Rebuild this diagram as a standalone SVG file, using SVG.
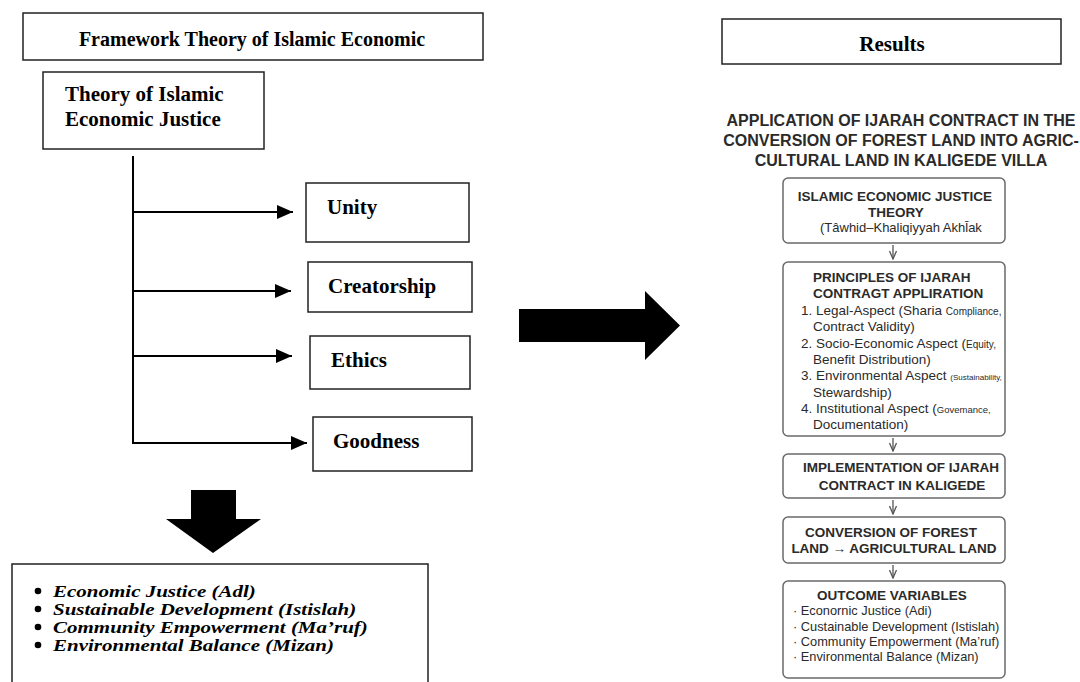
<svg xmlns="http://www.w3.org/2000/svg" width="1080" height="682" viewBox="0 0 1080 682">
<style>
.bx{fill:#fff;stroke:#222;stroke-width:1.5}
.rb{fill:#fff;stroke:#6a6a6a;stroke-width:1.5}
.tb{font-family:"Liberation Serif",serif;font-weight:bold;fill:#000}
.ti{font-family:"Liberation Serif",serif;font-weight:bold;font-style:italic;font-size:20px;fill:#000}
.sb{font-family:"Liberation Sans",Arial,sans-serif;font-weight:bold;fill:#2a2a2a}
.sr{font-family:"Liberation Sans",Arial,sans-serif;fill:#2a2a2a}
.cl{stroke:#000;stroke-width:2;fill:none}
.sl{stroke:#555;stroke-width:1.3;fill:none}
</style>
<defs>
<marker id="ah" viewBox="0 0 16 14" refX="16" refY="7" markerWidth="16" markerHeight="14" markerUnits="userSpaceOnUse" orient="auto"><path d="M0,0 L16,7 L0,14 z" fill="#000"/></marker>
<marker id="sa" viewBox="0 0 10 8" refX="9" refY="4" markerWidth="10" markerHeight="8" markerUnits="userSpaceOnUse" orient="auto"><path d="M1,0.5 L9,4 L1,7.5" fill="none" stroke="#555" stroke-width="1.3"/></marker>
</defs>
<rect width="1080" height="682" fill="#fff"/>

<g id="framework">
<rect class="bx" x="23" y="13" width="460" height="47"/>
<text class="tb" x="252" y="46" font-size="20" text-anchor="middle">Framework Theory of Islamic Economic</text>
</g>
<g id="theory">
<rect class="bx" x="43" y="72" width="221" height="77"/>
<text class="tb" x="65" y="101" font-size="21">Theory of Islamic</text>
<text class="tb" x="65" y="126" font-size="21">Economic Justice</text>
</g>
<g id="unity">
<rect class="bx" x="306" y="183" width="163" height="59"/>
<text class="tb" x="327" y="214" font-size="21">Unity</text>
</g>
<g id="creatorship">
<rect class="bx" x="308" y="262" width="164" height="50"/>
<text class="tb" x="328" y="293" font-size="21">Creatorship</text>
</g>
<g id="ethics">
<rect class="bx" x="310" y="336" width="160" height="53"/>
<text class="tb" x="331" y="367" font-size="21">Ethics</text>
</g>
<g id="goodness">
<rect class="bx" x="313" y="417" width="159" height="54"/>
<text class="tb" x="333" y="448" font-size="21">Goodness</text>
</g>
<g id="outcomes-left">
<rect class="bx" x="12" y="564" width="416" height="140"/>
<circle cx="38" cy="591" r="3.3"/>
<circle cx="38" cy="609" r="3.3"/>
<circle cx="38" cy="627" r="3.3"/>
<circle cx="38" cy="645" r="3.3"/>
<text class="ti" transform="translate(53,597) scale(1.05,0.8)">Economic Justice (Adl)</text>
<text class="ti" transform="translate(53,615) scale(1.05,0.8)">Sustainable Development (Istislah)</text>
<text class="ti" transform="translate(53,633) scale(1.05,0.8)">Community Empowerment (Ma’ruf)</text>
<text class="ti" transform="translate(53,651) scale(1.05,0.8)">Environmental Balance (Mizan)</text>
</g>

<g id="results">
<rect class="bx" x="722" y="19" width="339" height="45"/>
<text class="tb" x="892" y="51" font-size="21" text-anchor="middle">Results</text>
</g>
<g id="title">
<text class="sb" x="901" y="126" font-size="16" text-anchor="middle">APPLICATION OF IJARAH CONTRACT IN THE</text>
<text class="sb" x="901" y="146" font-size="16" text-anchor="middle">CONVERSION OF FOREST LAND INTO AGRIC-</text>
<text class="sb" x="901" y="166" font-size="16" text-anchor="middle">CULTURAL LAND IN KALIGEDE VILLA</text>
</g>
<g id="r-theory">
<rect class="rb" x="783" y="178" width="222" height="65" rx="5"/>
<text class="sb" x="895" y="201" font-size="13.5" text-anchor="middle">ISLAMIC ECONOMIC JUSTICE</text>
<text class="sb" x="896" y="217" font-size="13.5" text-anchor="middle">THEORY</text>
<text class="sr" x="820" y="232" font-size="13">(Tâwhid–Khaliqiyyah  Akhl̄ak</text>
</g>
<g id="r-principles">
<rect class="rb" x="783" y="262" width="222" height="174" rx="5"/>
<text class="sb" x="813" y="282" font-size="13.5">PRINCIPLES OF IJARAH</text>
<text class="sb" x="813" y="298" font-size="13.5">CONTRAGT APPLIRATION</text>
<text class="sr" x="801" y="314.5" font-size="13.5">1. Legal-Aspect (Sharia <tspan font-size="10">Compliance,</tspan></text>
<text class="sr" x="813" y="331" font-size="13.5">Contract Validity)</text>
<text class="sr" x="801" y="347.5" font-size="13.5">2. Socio-Economic Aspect (<tspan font-size="10">Equity,</tspan></text>
<text class="sr" x="813" y="363.5" font-size="13.5">Benefit Distribution)</text>
<text class="sr" x="801" y="380" font-size="13.5">3. Environmental Aspect <tspan font-size="8">(Sustainability,</tspan></text>
<text class="sr" x="813" y="396.5" font-size="13.5">Stewardship)</text>
<text class="sr" x="801" y="413" font-size="13.5">4. Institutional Aspect (<tspan font-size="9.5">Govemance,</tspan></text>
<text class="sr" x="813" y="429" font-size="13.5">Documentation)</text>
</g>
<g id="r-implementation">
<rect class="rb" x="783" y="454" width="222" height="44" rx="5"/>
<text class="sb" x="901" y="472" font-size="13.5" text-anchor="middle">IMPLEMENTATION OF IJARAH</text>
<text class="sb" x="902" y="490" font-size="13.5" text-anchor="middle">CONTRACT IN KALIGEDE</text>
</g>
<g id="r-conversion">
<rect class="rb" x="783" y="517" width="222" height="46" rx="5"/>
<text class="sb" x="891" y="537" font-size="13.5" text-anchor="middle">CONVERSION OF FOREST</text>
<text class="sb" x="894" y="553" font-size="13.5" text-anchor="middle">LAND → AGRICULTURAL LAND</text>
</g>
<g id="r-outcome">
<rect class="rb" x="783" y="581" width="222" height="97" rx="5"/>
<text class="sb" x="892" y="600" font-size="13.5" text-anchor="middle">OUTCOME VARIABLES</text>
<text class="sr" x="793" y="615" font-size="12.8">· Econornic Justice (Adi)</text>
<text class="sr" x="793" y="631" font-size="12.8">· Custainable Development (Istislah)</text>
<text class="sr" x="793" y="646" font-size="12.8">· Community Empowerment (Ma’ruf)</text>
<text class="sr" x="793" y="661" font-size="12.8">· Environmental Balance (Mizan)</text>
</g>

<g id="connectors">
<line class="cl" x1="133" y1="156" x2="133" y2="444"/>
<line class="cl" x1="132" y1="212" x2="293" y2="212" marker-end="url(#ah)"/>
<line class="cl" x1="132" y1="291" x2="291" y2="291" marker-end="url(#ah)"/>
<line class="cl" x1="132" y1="356" x2="292" y2="356" marker-end="url(#ah)"/>
<line class="cl" x1="132" y1="443" x2="307" y2="443" marker-end="url(#ah)"/>
<polygon points="519,309 645,309 645,291 680,325.5 645,360 645,342 519,342" fill="#000"/>
<polygon points="191,490 236,490 236,519 261,519 213,553 166,519 191,519" fill="#000"/>
<line class="sl" x1="893" y1="245" x2="893" y2="259" marker-end="url(#sa)"/>
<line class="sl" x1="893" y1="438" x2="893" y2="451" marker-end="url(#sa)"/>
<line class="sl" x1="893" y1="500" x2="893" y2="514" marker-end="url(#sa)"/>
<line class="sl" x1="893" y1="565" x2="893" y2="578" marker-end="url(#sa)"/>
</g>
</svg>
